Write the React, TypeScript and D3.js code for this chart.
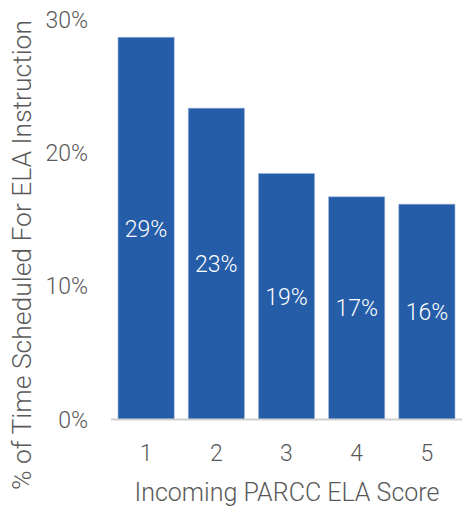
import React from "react";
import * as d3 from "d3";

const categories = ["1", "2", "3", "4", "5"];
const values = [0.2867, 0.2335, 0.1845, 0.167, 0.1615];
const labels = ["29%", "23%", "19%", "17%", "16%"];
const yTicks = [0, 0.1, 0.2, 0.3];

const W = 462;
const H = 506;
const FONT = "Roboto, 'Liberation Sans', sans-serif";

export default function App() {
  const x = d3.scaleBand().domain(categories).range([111, 462]).paddingInner(0.2).paddingOuter(0.1);
  const y = d3.scaleLinear().domain([0, 0.3]).range([419.5, 19.5]);
  const fmt = d3.format(".0%");
  return (
    <svg width={W} height={H} style={{ position: "absolute", left: 0, top: 0 }} fontFamily={FONT} fontWeight={300}>
      {categories.map((c, i) => (
        <rect key={c} x={x(c)} y={y(values[i])} width={x.bandwidth()} height={y(0) - y(values[i])}
          fill="#255DA8" stroke="#9bb3da" strokeWidth={0.6} />
      ))}
      <line x1={111} x2={462} y1={y(0)} y2={y(0)} stroke="#d0d0d0" strokeWidth={2} />
      {yTicks.map((t) => (
        <text key={t} x={88} y={y(t)} dy="0.36em" textAnchor="end" fontSize={23} fill="#595959">{fmt(t)}</text>
      ))}
      {categories.map((c) => (
        <text key={c} x={(x(c) as number) + x.bandwidth() / 2} y={453} dy="0.36em" textAnchor="middle" fontSize={23} fill="#595959">{c}</text>
      ))}
      {categories.map((c, i) => (
        <text key={c} x={(x(c) as number) + x.bandwidth() / 2} y={(y(values[i]) + y(0)) / 2} dy="0.36em" textAnchor="middle" fontSize={23} fill="#ffffff">{labels[i]}</text>
      ))}
      <text x={287} y={492} dy="0.36em" textAnchor="middle" fontSize={25} fill="#595959" textLength={305} lengthAdjust="spacingAndGlyphs">Incoming PARCC ELA Score</text>
      <text transform={`translate(22,255) rotate(-90)`} dy="0.36em" textAnchor="middle" fontSize={25} fill="#595959" textLength={470} lengthAdjust="spacingAndGlyphs">% of Time Scheduled For ELA Instruction</text>
    </svg>
  );
}
